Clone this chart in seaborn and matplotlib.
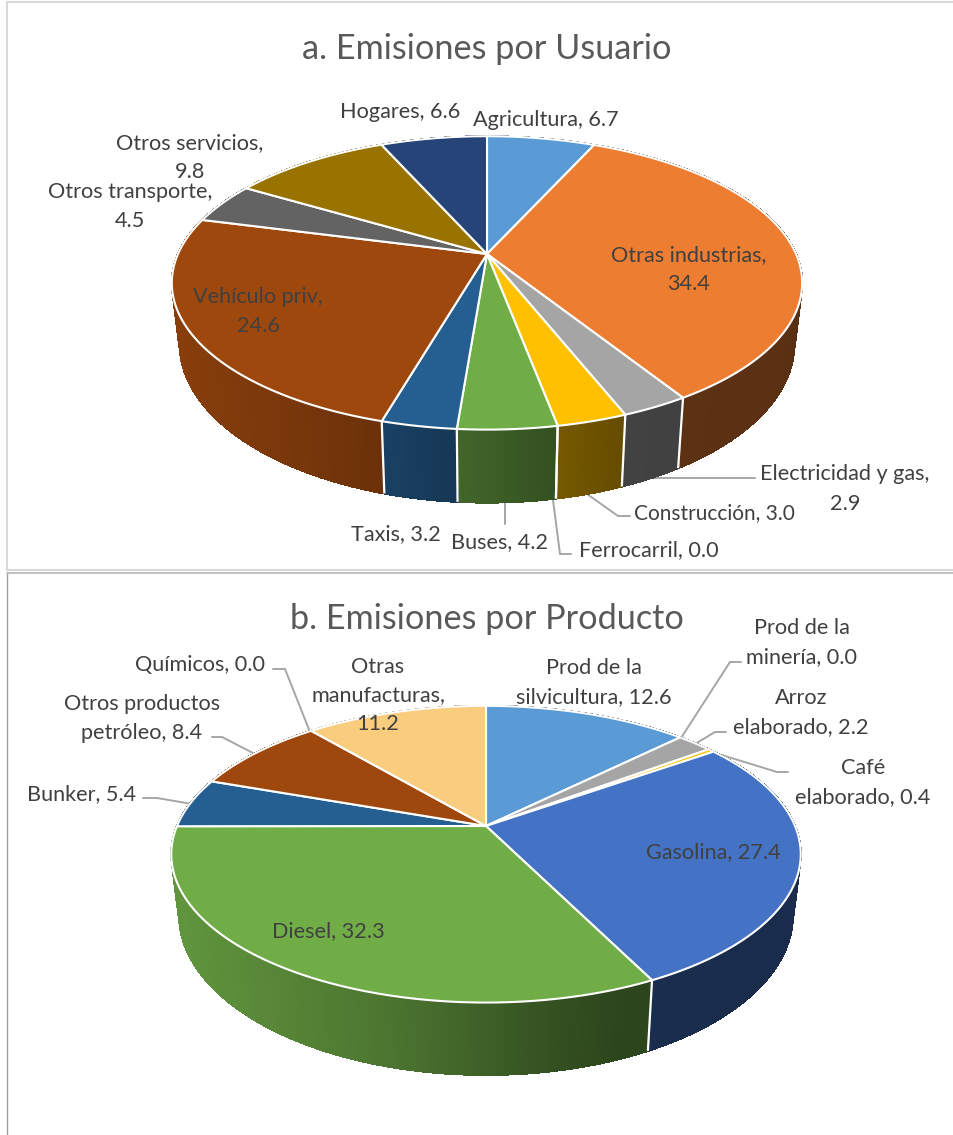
import numpy as np
import matplotlib
matplotlib.use("Agg")
import matplotlib.pyplot as plt
import seaborn as sns

# Emissions shares by user
user_names = ["Agricultura", "Otras industrias", "Electricidad y gas", "Construcción",
              "Ferrocarril", "Buses", "Taxis", "Vehículo priv", "Otros transporte",
              "Otros servicios", "Hogares"]
user_values = [6.7, 34.4, 2.9, 3.0, 0.0, 4.2, 3.2, 24.6, 4.5, 9.8, 6.6]
user_colors = ["#5B9BD5", "#ED7D31", "#A5A5A5", "#FFC000", "#4472C4", "#70AD47",
               "#255E91", "#9E480E", "#636363", "#997300", "#264478"]

# Emissions shares by product
product_names = ["Prod de la silvicultura", "Prod de la minería", "Arroz elaborado",
                 "Café elaborado", "Gasolina", "Diesel", "Bunker",
                 "Otros productos petróleo", "Químicos", "Otras manufacturas"]
product_values = [12.6, 0.0, 2.2, 0.4, 27.4, 32.3, 5.4, 8.4, 0.0, 11.2]
product_colors = ["#5B9BD5", "#ED7D31", "#A5A5A5", "#FFC000", "#4472C4", "#70AD47",
                  "#255E91", "#9E480E", "#636363", "#FACD7E"]

sns.set_theme(style="white")
plt.rcParams["font.family"] = ["Lato", "DejaVu Sans"]

TEXT = "#404040"
TITLE = "#595959"
LEADER = "#A6A6A6"
LABEL_SIZE = 15.6
TITLE_SIZE = 24.7

RADIUS, DEPTH = 309.0, 58.6
SHRINK = 0.975


def project(theta, apex, tilt, persp):
    """Perspective view of a point on the disc rim, clockwise from 12 o'clock."""
    u, v = np.sin(theta), np.cos(theta)
    w = 1.0 / (1.0 + persp * v)
    return apex[0] + RADIUS * u * w, apex[1] - tilt * v * w, w


def side_shade(x):
    return np.interp(x, [172, 385, 550, 620, 802], [0.86, 0.68, 0.47, 0.40, 0.38])


def draw_pie(ax, values, colors, apex, tilt, persp):
    palette = sns.color_palette(colors)
    fractions = np.cumsum([0.0] + list(values)) / np.sum(values)
    angles = 2 * np.pi * fractions

    # Extruded rim, built as narrow shaded strips
    for i, rgb in enumerate(palette):
        if values[i] == 0:
            continue
        n = max(int(values[i] * 8), 4)
        th = np.linspace(angles[i], angles[i + 1], n + 1)
        x, y, w = project(th, apex, tilt, persp)
        x2 = apex[0] + (x - apex[0]) * SHRINK
        y2 = y + DEPTH * w
        for j in range(n):
            shade = side_shade(0.5 * (x[j] + x[j + 1]))
            col = tuple(c * shade for c in rgb)
            ax.fill([x[j], x[j + 1], x2[j + 1], x2[j]],
                    [y[j], y[j + 1], y2[j + 1], y2[j]],
                    facecolor=col, edgecolor=col, lw=0.8, antialiased=False, zorder=1)

    # White seams between front-facing rim pieces
    for a in angles[:-1]:
        if np.cos(a) < 0:
            x, y, w = project(a, apex, tilt, persp)
            x2 = apex[0] + (x - apex[0]) * SHRINK
            ax.plot([x, x2], [y, y + DEPTH * w], color="white", lw=1.6, zorder=2,
                    solid_capstyle="butt")

    # Top face
    for i, rgb in enumerate(palette):
        if values[i] == 0:
            continue
        n = max(int(values[i] * 8), 4)
        th = np.linspace(angles[i], angles[i + 1], n + 1)
        x, y, _ = project(th, apex, tilt, persp)
        ax.fill(np.r_[apex[0], x], np.r_[apex[1], y], facecolor=rgb,
                edgecolor="white", lw=1.5, joinstyle="round", zorder=3)


def leader(ax, xs, ys):
    ax.plot(xs, ys, color=LEADER, lw=1.4, zorder=0.5, solid_joinstyle="miter")


def label(ax, x, y, text, size=LABEL_SIZE):
    ax.text(x, y + 1.5, text, ha="center", va="center", multialignment="center",
            color=TEXT, fontsize=size, linespacing=1.56, zorder=5)


fig = plt.figure(figsize=(9.54, 11.35), dpi=100, facecolor="white")
ax = fig.add_axes([0, 0, 1, 1])
ax.set_xlim(0, 954)
ax.set_ylim(1135, 0)
ax.axis("off")

# Panel frames
ax.plot([7.5, 7.5, 954], [570, 2, 2], color="#D9D9D9", lw=1.5, zorder=0)
ax.plot([7.5, 954], [570, 570], color="#D9D9D9", lw=1.5, zorder=0)
ax.plot([7.5, 7.5], [1135, 572.5], color="#A0A0A0", lw=1.0, zorder=0)
ax.plot([7.5, 954], [572.5, 572.5], color="#B5B5B5", lw=1.2, zorder=0)

# --- Panel a
draw_pie(ax, user_values, user_colors, (487, 254), 141.0, 0.197)
ax.text(487, 49, "a. Emisiones por Usuario", ha="center", va="center",
        color=TITLE, fontsize=TITLE_SIZE)

leader(ax, [646, 755], [478, 478])
leader(ax, [587, 618, 630], [494, 516, 516])
leader(ax, [553, 560, 571], [500, 554, 554])
leader(ax, [505, 505], [503, 524])

label(ax, 400, 110, f"{user_names[10]}, {user_values[10]}")
label(ax, 546, 118, f"{user_names[0]}, {user_values[0]}")
label(ax, 190, 156, f"{user_names[9]},\n{user_values[9]}")
label(ax, 130, 205, f"{user_names[8]},\n{user_values[8]}")
label(ax, 689, 268, f"{user_names[1]},\n{user_values[1]}")
label(ax, 258, 310, f"{user_names[7]},\n{user_values[7]}")
# Two separate lines keep the value clear of the neighbouring label
label(ax, 845, 473, f"{user_names[2]},")
label(ax, 845, 502, f"{user_values[2]}")
label(ax, 714, 512, f"{user_names[3]}, {user_values[3]:.1f}", size=15.0)
label(ax, 649, 549, f"{user_names[4]}, {user_values[4]:.1f}")
label(ax, 500, 541, f"{user_names[5]}, {user_values[5]}")
label(ax, 396, 533, f"{user_names[6]}, {user_values[6]}")

# --- Panel b
draw_pie(ax, product_values, product_colors, (486, 826), 143.0, 0.19)
ax.text(487, 619, "b. Emisiones por Producto", ha="center", va="center",
        color=TITLE, fontsize=TITLE_SIZE)

leader(ax, [681, 730, 741], [738, 662, 662])
leader(ax, [695, 715, 726], [744, 732, 732])
leader(ax, [712, 777, 788], [752, 772, 772])
leader(ax, [273, 285, 310], [669, 669, 732])
leader(ax, [212, 222, 255], [737, 737, 754])
leader(ax, [143, 157, 192], [798, 798, 804])

label(ax, 594, 681, "Prod de la\nsilvicultura, " + str(product_values[0]))
label(ax, 802, 641, "Prod de la\nminería, " + f"{product_values[1]:.1f}")
label(ax, 801, 711, "Arroz\nelaborado, " + str(product_values[2]))
label(ax, 863, 781, "Café\nelaborado, " + str(product_values[3]))
label(ax, 713, 851, f"{product_names[4]}, {product_values[4]}")
label(ax, 328, 930, f"{product_names[5]}, {product_values[5]}")
label(ax, 82, 793, f"{product_names[6]}, {product_values[6]}")
label(ax, 142, 717, "Otros productos\npetróleo, " + str(product_values[7]))
label(ax, 200, 663, f"{product_names[8]}, {product_values[8]:.1f}")
label(ax, 378, 694, "Otras\nmanufacturas,\n" + str(product_values[9]))

fig.savefig("out.png", dpi=100, facecolor="white")
